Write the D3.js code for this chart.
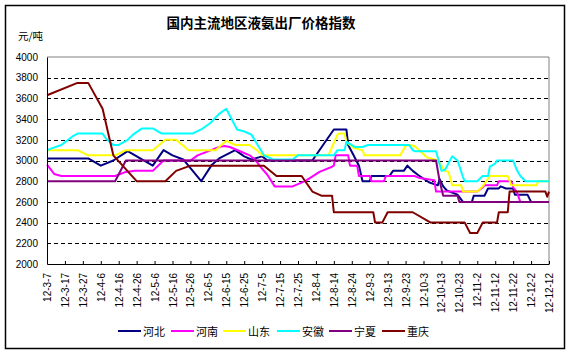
<!DOCTYPE html>
<html>
<head>
<meta charset="utf-8">
<script src="https://cdn.jsdelivr.net/npm/d3@7"></script>
<style>
  body { margin: 0; background: #fff; }
  svg { display: block; }
</style>
</head>
<body>
<div id="chart"></div>
<script>
// tick labels on the date axis (every 10 days)
const tickLabels = ["12-3-7","12-3-17","12-3-27","12-4-6","12-4-16","12-4-26","12-5-6","12-5-16","12-5-26",
  "12-6-5","12-6-15","12-6-25","12-7-5","12-7-15","12-7-25","12-8-4","12-8-14","12-8-24","12-9-3",
  "12-9-13","12-9-23","12-10-3","12-10-13","12-10-23","12-11-2","12-11-12","12-11-22","12-12-2","12-12-12"];
const yTicks = [2000, 2200, 2400, 2600, 2800, 3000, 3200, 3400, 3600, 3800, 4000];

const seriesNames = ["河北", "河南", "山东", "安徽", "宁夏", "重庆"];
const seriesColors = ["#000080", "#ff00ff", "#ffff00", "#00ffff", "#800080", "#800000"];

// values: [date, price]
const hebei = [["12-3-7",3020],["12-3-30",3020],["12-4-6",2950],["12-4-13",3000],["12-4-21",3090],
  ["12-5-5",2950],["12-5-11",3100],["12-5-16",3050],["12-5-22",3010],["12-6-1",2800],["12-6-7",2960],
  ["12-6-11",3020],["12-6-20",3100],["12-6-25",3040],["12-6-29",3010],["12-7-5",3040],["12-7-8",3000],
  ["12-8-2",3000],["12-8-10",3200],["12-8-14",3300],["12-8-21",3300],["12-8-22",3150],["12-8-25",3050],
  ["12-8-28",2950],["12-8-30",2800],["12-9-3",2800],["12-9-4",2850],["12-9-14",2850],["12-9-16",2900],
  ["12-9-22",2900],["12-9-24",2950],["12-9-27",2900],["12-9-30",2860],["12-10-6",2790],["12-10-11",2760],
  ["12-10-12",2820],["12-10-14",2750],["12-10-16",2710],["12-10-22",2670],["12-10-25",2600],["12-10-30",2600],
  ["12-10-31",2660],["12-11-6",2660],["12-11-8",2730],["12-11-14",2730],["12-11-15",2750],["12-11-18",2730],
  ["12-11-22",2730],["12-11-23",2670],["12-11-30",2670],["12-12-2",2600],["12-12-12",2600]];

const henan = [["12-3-7",2960],["12-3-11",2870],["12-3-15",2850],["12-4-14",2850],["12-4-20",2890],
  ["12-4-25",2900],["12-5-5",2900],["12-5-11",3000],["12-5-26",3000],["12-5-30",3050],["12-6-11",3130],
  ["12-6-14",3140],["12-6-17",3130],["12-6-24",3080],["12-6-28",3050],["12-7-1",3010],["12-7-4",2940],
  ["12-7-8",2860],["12-7-12",2750],["12-7-22",2750],["12-7-29",2800],["12-8-6",2890],["12-8-13",2940],
  ["12-8-14",2950],["12-8-15",3050],["12-8-22",3050],["12-8-23",2950],["12-8-27",2950],["12-8-28",2850],
  ["12-9-3",2850],["12-9-4",2800],["12-9-11",2800],["12-9-12",2850],["12-9-28",2850],["12-10-1",2830],
  ["12-10-9",2810],["12-10-10",2700],["12-11-2",2700],["12-11-5",2740],["12-11-6",2760],["12-11-13",2760],
  ["12-11-14",2800],["12-11-21",2800],["12-11-22",2740],["12-11-24",2700],["12-11-26",2600],["12-12-12",2600]];

const shandong = [["12-3-7",3100],["12-3-24",3100],["12-3-30",3050],["12-4-14",3050],["12-4-20",3100],
  ["12-5-5",3100],["12-5-12",3200],["12-5-18",3200],["12-5-25",3100],["12-6-9",3100],["12-6-15",3190],
  ["12-6-20",3150],["12-6-28",3150],["12-7-2",3100],["12-7-5",3050],["12-8-11",3050],["12-8-16",3250],
  ["12-8-17",3260],["12-8-20",3260],["12-8-21",3180],["12-8-25",3120],["12-8-30",3100],["12-8-31",3050],
  ["12-9-20",3050],["12-9-23",3140],["12-9-25",3150],["12-9-28",3140],["12-10-5",3030],["12-10-11",3000],
  ["12-10-15",2900],["12-10-17",2890],["12-10-19",2760],["12-10-24",2760],["12-10-25",2700],["12-11-2",2700],
  ["12-11-5",2750],["12-11-9",2850],["12-11-19",2850],["12-11-21",2760],["12-12-5",2760],["12-12-6",2800],
  ["12-12-12",2800]];

const anhui = [["12-3-7",3100],["12-3-10",3120],["12-3-15",3150],["12-3-21",3230],["12-3-24",3260],
  ["12-4-7",3260],["12-4-9",3210],["12-4-13",3150],["12-4-16",3150],["12-4-21",3200],["12-4-24",3250],
  ["12-4-29",3310],["12-5-5",3310],["12-5-10",3260],["12-5-27",3260],["12-6-1",3300],["12-6-6",3360],
  ["12-6-11",3450],["12-6-15",3500],["12-6-21",3300],["12-6-25",3280],["12-6-29",3250],["12-7-6",3050],
  ["12-7-11",3010],["12-7-22",3010],["12-7-25",3050],["12-8-14",3050],["12-8-16",3100],["12-8-20",3100],
  ["12-8-21",3180],["12-8-26",3130],["12-8-30",3130],["12-9-2",3150],["12-9-25",3150],["12-9-27",3100],
  ["12-9-28",3090],["12-10-10",3090],["12-10-13",2900],["12-10-15",2910],["12-10-19",3040],["12-10-22",3000],
  ["12-10-25",2840],["12-10-26",2800],["12-11-2",2800],["12-11-5",2850],["12-11-8",2850],["12-11-9",2940],
  ["12-11-12",2970],["12-11-13",3000],["12-11-22",3000],["12-11-24",2910],["12-11-26",2850],["12-11-29",2800],
  ["12-12-12",2800]];

const ningxia = [["12-3-7",2800],["12-4-14",2800],["12-4-20",3000],["12-10-10",3000],["12-10-12",2800],
  ["12-10-14",2660],["12-10-22",2660],["12-10-23",2600],["12-12-12",2600]];

const chongqing = [["12-3-7",3630],["12-3-24",3750],["12-3-30",3750],["12-4-7",3500],["12-4-13",3050],
  ["12-4-26",2800],["12-5-12",2800],["12-5-18",2900],["12-5-26",2950],["12-7-6",2950],["12-7-13",2850],
  ["12-7-27",2850],["12-8-2",2700],["12-8-7",2660],["12-8-13",2660],["12-8-14",2500],["12-9-5",2500],
  ["12-9-6",2400],["12-9-10",2400],["12-9-13",2500],["12-9-27",2500],["12-10-7",2400],["12-10-26",2400],
  ["12-10-29",2300],["12-11-2",2300],["12-11-5",2400],["12-11-13",2400],["12-11-14",2500],["12-11-19",2500],
  ["12-11-20",2700],["12-12-10",2700],["12-12-11",2650],["12-12-12",2700]];

const seriesData = [hebei, henan, shandong, anhui, ningxia, chongqing];

const W = 572, H = 354;
const margin = { top: 57, right: 23, bottom: 90, left: 47 },
      width = W - margin.left - margin.right,
      height = H - margin.top - margin.bottom;

const parse = d3.timeParse("%y-%m-%d");
const cjk = "'Noto Sans CJK SC', 'Noto Sans', sans-serif";
const latin = "'Liberation Sans', Arial, sans-serif";

const svg = d3.select("#chart")
  .append("svg")
    .attr("width", W)
    .attr("height", H);

// outer frame
svg.append("rect")
  .attr("x", 5.5).attr("y", 5.5)
  .attr("width", 559).attr("height", 343)
  .attr("fill", "#fff")
  .attr("stroke", "#000")
  .attr("stroke-width", 1.5);

// title and unit
svg.append("text")
  .attr("x", 261).attr("y", 22)
  .attr("text-anchor", "middle")
  .attr("dominant-baseline", "central")
  .style("font-family", cjk)
  .style("font-size", "13.5px")
  .style("font-weight", "bold")
  .text("国内主流地区液氨出厂价格指数");

svg.append("text")
  .attr("x", 18).attr("y", 35)
  .attr("dominant-baseline", "central")
  .style("font-family", cjk)
  .style("font-size", "10.5px")
  .text("元/吨");

const g = svg.append("g")
  .attr("transform", `translate(${margin.left},${margin.top})`);

const x = d3.scaleTime()
  .domain([parse(tickLabels[0]), parse(tickLabels[tickLabels.length - 1])])
  .range([0, width]);

const y = d3.scaleLinear()
  .domain([2000, 4000])
  .range([height, 0]);

// plot area border (grey top and right)
g.append("path")
  .attr("d", `M0,${y(4000)}H${width}V${height}`)
  .attr("fill", "none")
  .attr("stroke", "#808080")
  .attr("stroke-width", 1);

// dashed gridlines
g.append("g")
  .selectAll("line")
  .data(yTicks.filter(v => v > 2000 && v < 4000))
  .join("line")
    .attr("x1", 0).attr("x2", width)
    .attr("y1", d => Math.round(y(d)) + 0.5)
    .attr("y2", d => Math.round(y(d)) + 0.5)
    .attr("stroke", "#000")
    .attr("stroke-dasharray", "4,3");

// lines
const line = d3.line()
  .x(d => x(parse(d[0])))
  .y(d => y(d[1]));

g.append("g")
  .selectAll("path")
  .data(seriesData)
  .join("path")
    .attr("d", line)
    .attr("fill", "none")
    .attr("stroke", (d, i) => seriesColors[i])
    .attr("stroke-width", 2)
    .attr("stroke-linejoin", "round");

// Y axis
const yAxis = g.append("g")
  .call(d3.axisLeft(y).tickValues(yTicks).tickFormat(d3.format("d")).tickSize(0).tickPadding(9));
yAxis.select(".domain").attr("stroke", "#000");
yAxis.selectAll("text")
  .style("font-family", latin)
  .style("font-size", "10px")
  .attr("fill", "#000");

// X axis
const xAxis = g.append("g")
  .attr("transform", `translate(0,${height})`)
  .call(d3.axisBottom(x)
    .tickValues(tickLabels.map(parse))
    .tickFormat((d, i) => tickLabels[i])
    .tickSizeInner(-3)
    .tickSizeOuter(0));
xAxis.select(".domain").attr("stroke", "#000");
xAxis.selectAll("text")
  .attr("transform", "rotate(-90)")
  .attr("x", -9)
  .attr("y", 0)
  .attr("dy", "0.35em")
  .style("text-anchor", "end")
  .style("font-family", latin)
  .style("font-size", "10px")
  .attr("fill", "#000");

// legend
const legendX = [118, 171, 223, 277, 329, 382];
const legend = svg.append("g")
  .selectAll("g")
  .data(seriesNames)
  .join("g")
    .attr("transform", (d, i) => `translate(${legendX[i]},331)`);

legend.append("line")
  .attr("x1", 0).attr("x2", 23)
  .attr("stroke", (d, i) => seriesColors[i])
  .attr("stroke-width", 2);

legend.append("text")
  .attr("x", 25)
  .attr("dominant-baseline", "central")
  .style("font-family", cjk)
  .style("font-size", "11px")
  .text(d => d);
</script>
</body>
</html>
